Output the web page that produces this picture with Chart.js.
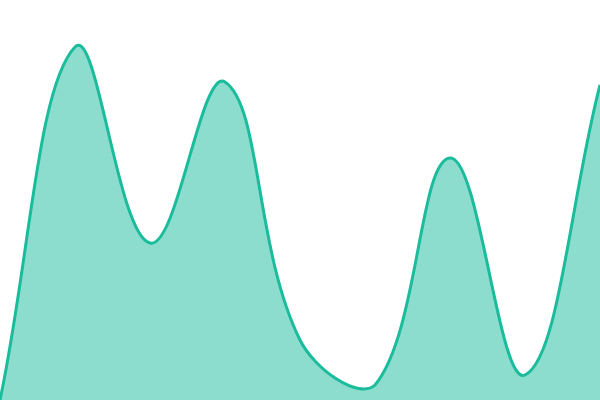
<!DOCTYPE html>
<html><head><meta charset="utf-8">
<script src="https://cdn.jsdelivr.net/npm/chart.js@4"></script>
<style>html,body{margin:0;padding:0;background:#fff}#wrap{width:600px;height:400px}</style>
</head><body><div id="wrap"><canvas id="c"></canvas></div>
<script>
const labels = ["1","2","3","4","5","6","7","8","9"];
const values = [0, 353, 157, 318, 60, 15, 242, 25, 315];
new Chart(document.getElementById('c'), {
  type: 'line',
  data: { labels: labels, datasets: [{
    data: values,
    borderColor: '#1abc9c',
    backgroundColor: 'rgba(26,188,156,0.5)',
    borderWidth: 3,
    fill: true,
    tension: 0.4,
    pointRadius: 0
  }]},
  options: {
    responsive: true, maintainAspectRatio: false, animation: false,
    layout: { padding: 0 },
    plugins: { legend: { display: false }, tooltip: { enabled: false } },
    scales: {
      x: { display: false, offset: false },
      y: { display: false, min: 0, max: 400 }
    }
  }
});
</script></body></html>
